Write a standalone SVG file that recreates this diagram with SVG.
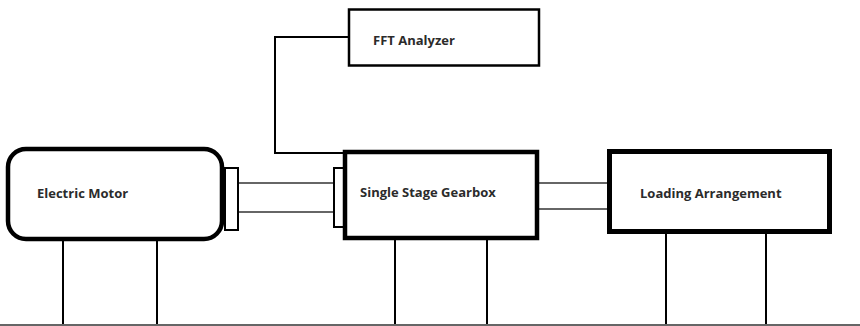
<svg xmlns="http://www.w3.org/2000/svg" width="860" height="326" viewBox="0 0 860 326">
  <style>
    .lbl { font-family: "Open Sans", "Liberation Sans", Arial, sans-serif; font-weight: bold; font-size: 13px; fill: #2b2b2b; }
    .box { fill: #fff; stroke: #000; }
    .wire { fill: none; stroke: #000; stroke-width: 2; }
    .shaft { fill: none; stroke: #333; stroke-width: 1.5; }
  </style>
  <rect width="860" height="326" fill="#fff"/>

  <!-- connectors: supports, shafts and signal line -->
  <g id="connectors">
    <!-- supports down to the base -->
    <line class="wire" x1="63" y1="240" x2="63" y2="325"/>
    <line class="wire" x1="157" y1="240" x2="157" y2="325"/>
    <line class="wire" x1="395" y1="239" x2="395" y2="325"/>
    <line class="wire" x1="487" y1="239" x2="487" y2="325"/>
    <line class="wire" x1="666" y1="232" x2="666" y2="325"/>
    <line class="wire" x1="766" y1="232" x2="766" y2="325"/>
    <!-- base line -->
    <line x1="0" y1="325" x2="860" y2="325" stroke="#666" stroke-width="2"/>
    <!-- motor to gearbox shaft -->
    <line class="shaft" x1="238" y1="183" x2="334" y2="183"/>
    <line class="shaft" x1="238" y1="212" x2="334" y2="212"/>
    <!-- gearbox to load shaft -->
    <line class="shaft" x1="539" y1="183" x2="608" y2="183"/>
    <line class="shaft" x1="539" y1="209" x2="608" y2="209"/>
    <!-- signal line from gearbox to analyzer -->
    <polyline class="wire" points="348,37 275,37 275,153 345,153"/>
  </g>

  <g id="fft-analyzer">
    <rect class="box" x="349" y="9.5" width="190" height="56" stroke-width="2.5"/>
    <text class="lbl" x="373" y="45">FFT Analyzer</text>
  </g>

  <g id="electric-motor">
    <rect class="box" x="8" y="149" width="214" height="90" rx="18" ry="18" stroke-width="4.5"/>
    <rect class="box" x="225" y="168" width="13" height="62" stroke-width="2"/>
    <text class="lbl" x="37" y="198">Electric Motor</text>
  </g>

  <g id="gearbox">
    <rect class="box" x="334" y="168" width="10" height="59" stroke-width="2"/>
    <rect class="box" x="345" y="152" width="192" height="86" stroke-width="4.5"/>
    <text class="lbl" x="360" y="197">Single Stage Gearbox</text>
  </g>

  <g id="loading-arrangement">
    <rect class="box" x="609.5" y="151.5" width="220" height="80" stroke-width="5"/>
    <text class="lbl" x="640" y="198">Loading Arrangement</text>
  </g>
</svg>
